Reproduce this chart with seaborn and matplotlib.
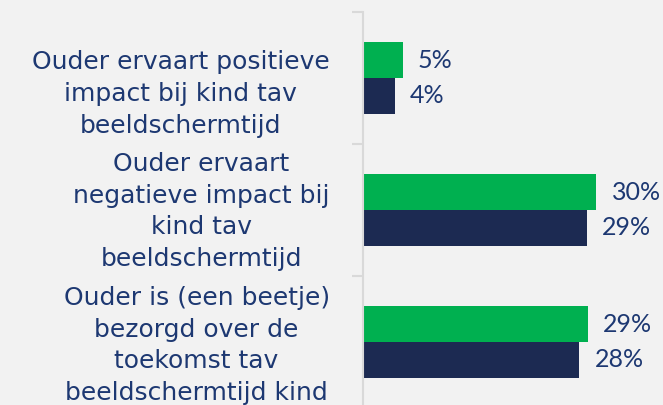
import seaborn as sns
import pandas as pd
import matplotlib.pyplot as plt
from matplotlib.ticker import FixedLocator

# data
categories = ["Ouder ervaart positieve\nimpact bij kind tav\nbeeldschermtijd",
              "Ouder ervaart\nnegatieve impact bij\nkind tav\nbeeldschermtijd",
              "Ouder is (een beetje)\nbezorgd over de\ntoekomst tav\nbeeldschermtijd kind"]
series = ["Reeks 1", "Reeks 2"]
values_1 = [5.1, 30.1, 29.0]
values_2 = [4.1, 28.9, 27.9]
labels_1 = ["5%", "30%", "29%"]
labels_2 = ["4%", "29%", "28%"]

df = pd.DataFrame({
    "cat": categories * 2,
    "reeks": [series[0]] * 3 + [series[1]] * 3,
    "val": values_1 + values_2,
})

bg = "#F2F2F2"
textcol = "#1D3872"
grid = "#D9D9D9"

fig = plt.figure(figsize=(6.63, 4.05), dpi=100, facecolor=bg)
ax = fig.add_axes([363 / 663, -3 / 405, 300 / 663, 396 / 405], facecolor=bg)

sns.barplot(data=df, y="cat", x="val", hue="reeks", orient="h",
            palette=["#00B050", "#1C2A52"], width=0.54, dodge=True,
            saturation=1, legend=False, ax=ax)

ax.set_xlim(0, 300 / 7.75)
ax.set_ylim(2.5, -0.5)
ax.set_xlabel("")
ax.set_ylabel("")
ax.set_xticks([])

for c, lab in zip(ax.containers, [labels_1, labels_2]):
    ax.bar_label(c, labels=lab, padding=11, fontsize=18, color=textcol,
                 family="Lato")

# category labels (the 3-line one sits a bit lower, like in the original)
ax.set_yticklabels([])
shifts = [-11.5, -1, -2.5]
for i, (cat, dy) in enumerate(zip(categories, shifts)):
    ax.annotate(cat, xy=(0, i), xycoords=("axes fraction", "data"),
                xytext=(-24, dy), textcoords="offset points",
                ha="right", va="center", multialignment="center",
                fontsize=18, color=textcol, linespacing=1.4)

ax.yaxis.set_minor_locator(FixedLocator([-0.5, 0.5, 1.5, 2.5]))
ax.tick_params(axis="y", which="major", length=0)
ax.tick_params(axis="y", which="minor", length=8, width=1.5, color=grid)

for s in ["top", "right", "bottom"]:
    ax.spines[s].set_visible(False)
ax.spines["left"].set_color(grid)
ax.spines["left"].set_linewidth(1.5)

fig.savefig("out.png", dpi=100, facecolor=bg)
